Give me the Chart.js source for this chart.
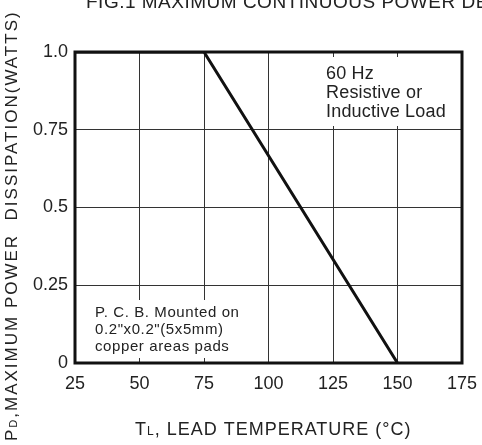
<!DOCTYPE html>
<html>
<head>
<meta charset="UTF-8" />
<title>Power Derating</title>
<style>
  body { margin: 0; background: #fff; }
  .wrap { width: 482px; height: 445px; }
</style>
</head>
<body>
<div class="wrap"><canvas id="chart"></canvas></div>
<script src="https://cdn.jsdelivr.net/npm/chart.js@4.4.0/dist/chart.umd.min.js"></script>
<script>
// data
const tempC = [25, 75, 150];
const powerW = [1.0, 1.0, 0];
const xTicks = [25, 50, 75, 100, 125, 150, 175];
const yTicks = [0, 0.25, 0.5, 0.75, 1.0];
const yTickText = ["0", "0.25", "0.5", "0.75", "1.0"];

const FONT = "'Liberation Sans', Arial, sans-serif";

// white note boxes + texts + frame
const notes = {
  id: "notes",
  beforeDatasetsDraw(chart) {
    const c = chart.ctx;
    c.save();
    c.fillStyle = "#fff";
    c.fillRect(77, 300, 160, 58);
    c.fillRect(316, 57, 143, 69);
    c.fillStyle = "#222";
    c.textBaseline = "middle";
    c.font = "15px " + FONT;
    c.letterSpacing = "0.6px";
    c.fillText("P. C. B. Mounted on", 95, 313);
    c.fillText('0.2"x0.2"(5x5mm)', 95, 330);
    c.fillText("copper areas pads", 95, 347);
    c.font = "18px " + FONT;
    c.letterSpacing = "0.2px";
    c.fillText("60 Hz", 326, 74);
    c.fillText("Resistive or", 326, 93);
    c.fillText("Inductive Load", 326, 112);
    c.restore();
  },
  afterDraw(chart) {
    const c = chart.ctx;
    const a = chart.chartArea;
    c.save();
    c.strokeStyle = "#111";
    c.lineWidth = 3;
    c.strokeRect(a.left, a.top, a.right - a.left, a.bottom - a.top);
    c.fillStyle = "#222";
    // title (cut at top like the scan)
    c.font = "19px " + FONT;
    c.letterSpacing = "0.5px";
    c.textBaseline = "alphabetic";
    c.fillText("FIG.1 MAXIMUM CONTINUOUS POWER DERATING CURVE", 86, 8);
    // x axis title
    c.letterSpacing = "1px";
    c.font = "18px " + FONT;
    let x = 135, y = 435;
    c.fillText("T", x, y);
    x += c.measureText("T").width;
    c.font = "12px " + FONT;
    c.fillText("L", x, y);
    x += c.measureText("L").width;
    c.font = "18px " + FONT;
    c.fillText(", LEAD TEMPERATURE (°C)", x, y);
    // y axis title, rotated
    c.translate(17, 441);
    c.rotate(-Math.PI / 2);
    c.letterSpacing = "2px";
    c.font = "17px " + FONT;
    x = 0;
    c.fillText("P", x, 0);
    x += c.measureText("P").width;
    c.font = "11px " + FONT;
    c.fillText("D", x, 0);
    x += c.measureText("D").width;
    c.font = "17px " + FONT;
    c.fillText(",MAXIMUM POWER  DISSIPATION(WATTS)", x, 0);
    c.restore();
  }
};

new Chart(document.getElementById("chart"), {
  type: "line",
  data: {
    datasets: [
      {
        data: tempC.map((t, i) => ({ x: t, y: powerW[i] })),
        borderColor: "#111",
        borderWidth: 3,
        pointRadius: 0,
        tension: 0,
      },
    ],
  },
  options: {
    responsive: true,
    maintainAspectRatio: false,
    animation: false,
    layout: { padding: { top: 52, right: 20, left: 0, bottom: 0 } },
    plugins: { legend: { display: false }, tooltip: { enabled: false } },
    scales: {
      x: {
        type: "linear",
        min: 25,
        max: 175,
        afterFit: (s) => { s.height = 82; s.paddingLeft = 0; s.paddingRight = 0; },
        afterBuildTicks: (s) => { s.ticks = xTicks.map((v) => ({ value: v })); },
        ticks: { color: "#222", font: { family: FONT, size: 18 }, padding: 10, maxRotation: 0 },
        grid: { color: "#333", lineWidth: 1, drawTicks: false },
        border: { display: false },
      },
      y: {
        min: 0,
        max: 1,
        afterFit: (s) => { s.width = 75; s.paddingTop = 0; s.paddingBottom = 0; },
        afterBuildTicks: (s) => { s.ticks = yTicks.map((v) => ({ value: v })); },
        ticks: {
          color: "#222",
          font: { family: FONT, size: 18 },
          padding: 7,
          callback: (v) => yTickText[yTicks.indexOf(v)],
        },
        grid: { color: "#333", lineWidth: 1, drawTicks: false },
        border: { display: false },
      },
    },
  },
  plugins: [notes],
});
</script>
</body>
</html>
